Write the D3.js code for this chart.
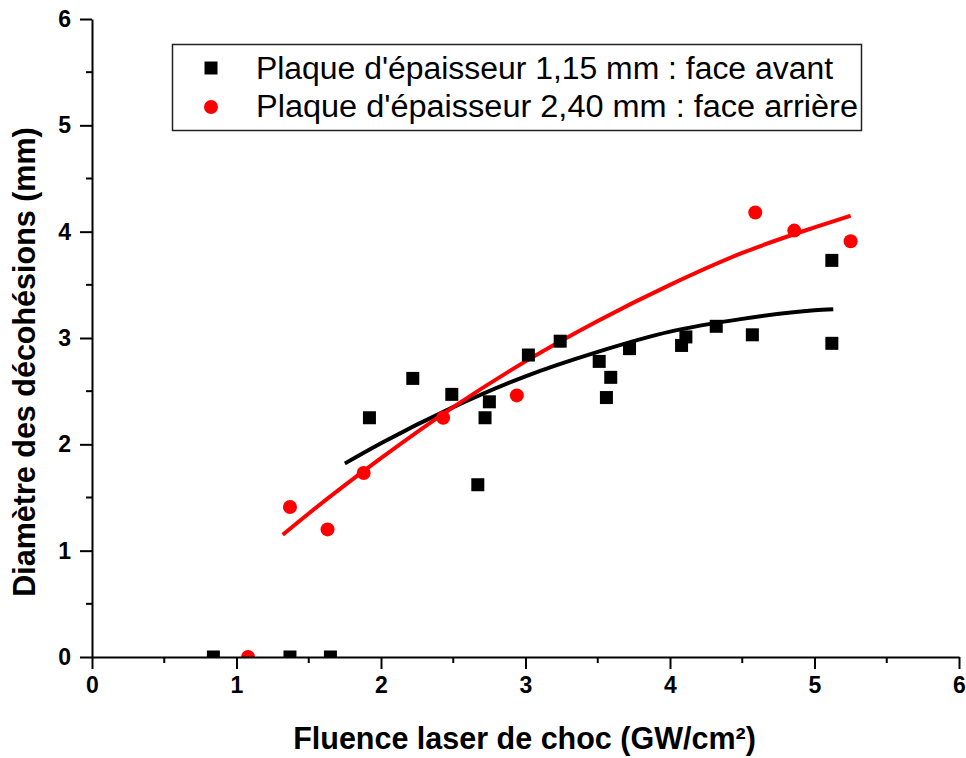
<!DOCTYPE html>
<html>
<head>
<meta charset="utf-8">
<script src="https://cdn.jsdelivr.net/npm/d3@7"></script>
<style>
  body { margin: 0; background: #fff; }
  svg { font-family: "Liberation Sans", Arial, sans-serif; }
</style>
</head>
<body>
<div id="chart"></div>
<script>
// measured points, plate 1.15 mm (front face)
var blackX = [0.84, 1.37, 1.65, 1.92, 2.22, 2.49, 2.67, 2.72, 2.75, 3.02, 3.24, 3.51, 3.56, 3.59, 3.72, 4.08, 4.11, 4.32, 4.57, 5.12, 5.12];
var blackY = [0, 0, 0, 2.25, 2.62, 2.47, 1.62, 2.25, 2.40, 2.84, 2.97, 2.78, 2.44, 2.63, 2.90, 2.93, 3.01, 3.11, 3.03, 3.73, 2.95];
// measured points, plate 2.40 mm (rear face)
var redX = [1.08, 1.37, 1.63, 1.88, 2.43, 2.94, 4.59, 4.86, 5.25];
var redY = [0, 1.41, 1.20, 1.73, 2.25, 2.46, 4.18, 4.01, 3.91];
// fitted curves
var blackFitX = [1.75, 2.0, 2.5, 3.0, 3.5, 4.0, 4.5, 5.0, 5.13];
var blackFitY = [1.82, 2.01, 2.35, 2.64, 2.87, 3.06, 3.18, 3.26, 3.27];
var redFitX = [1.32, 1.5, 2.0, 2.5, 3.0, 3.5, 4.0, 4.5, 5.0, 5.25];
var redFitY = [1.15, 1.35, 1.87, 2.35, 2.78, 3.16, 3.50, 3.80, 4.04, 4.15];

var xTicks = [0, 1, 2, 3, 4, 5, 6];
var yTicks = [0, 1, 2, 3, 4, 5, 6];
var minorTicks = [0.5, 1.5, 2.5, 3.5, 4.5, 5.5];
var seriesNames = ["Plaque d'épaisseur 1,15 mm : face avant", "Plaque d'épaisseur 2,40 mm : face arrière"];
var xTitle = "Fluence laser de choc (GW/cm²)";
var yTitle = "Diamètre des décohésions (mm)";

var W = 966, H = 758;
var svg = d3.select("#chart").append("svg")
  .attr("width", W).attr("height", H);

var x = d3.scaleLinear().domain([0, 6]).range([92, 959]);
var y = d3.scaleLinear().domain([0, 6]).range([657, 19]);

var zip = function (xs, ys) { return xs.map(function (v, i) { return [v, ys[i]]; }); };

svg.append("clipPath").attr("id", "plotclip")
  .append("rect")
  .attr("x", x(0)).attr("y", y(6))
  .attr("width", x(6) - x(0)).attr("height", y(0) - y(6));

var plot = svg.append("g").attr("clip-path", "url(#plotclip)");

var line = d3.line()
  .x(function (d) { return x(d[0]); })
  .y(function (d) { return y(d[1]); })
  .curve(d3.curveMonotoneX);

plot.append("path").datum(zip(blackFitX, blackFitY))
  .attr("d", line).attr("fill", "none").attr("stroke", "#000").attr("stroke-width", 4);
plot.append("path").datum(zip(redFitX, redFitY))
  .attr("d", line).attr("fill", "none").attr("stroke", "#ff0000").attr("stroke-width", 4);

var sq = 13;
plot.selectAll(".sq").data(zip(blackX, blackY)).enter().append("rect")
  .attr("class", "sq")
  .attr("x", function (d) { return x(d[0]) - sq / 2; })
  .attr("y", function (d) { return y(d[1]) - sq / 2; })
  .attr("width", sq).attr("height", sq)
  .attr("fill", "#000");

plot.selectAll(".dot").data(zip(redX, redY)).enter().append("circle")
  .attr("class", "dot")
  .attr("cx", function (d) { return x(d[0]); })
  .attr("cy", function (d) { return y(d[1]); })
  .attr("r", 7)
  .attr("fill", "#ff0000");

// axes
var xAxis = d3.axisBottom(x).tickValues(xTicks).tickFormat(d3.format("d"))
  .tickSize(12).tickSizeOuter(0).tickPadding(8);
var yAxis = d3.axisLeft(y).tickValues(yTicks).tickFormat(d3.format("d"))
  .tickSize(12).tickSizeOuter(0).tickPadding(9);

var gx = svg.append("g").attr("transform", "translate(0," + y(0) + ")").call(xAxis);
var gy = svg.append("g").attr("transform", "translate(" + x(0) + ",0)").call(yAxis);

gx.append("g").selectAll("line").data(minorTicks).enter().append("line")
  .attr("x1", function (d) { return x(d); }).attr("x2", function (d) { return x(d); })
  .attr("y1", 0).attr("y2", 6);
gy.append("g").selectAll("line").data(minorTicks).enter().append("line")
  .attr("y1", function (d) { return y(d); }).attr("y2", function (d) { return y(d); })
  .attr("x1", 0).attr("x2", -6);

[gx, gy].forEach(function (g) {
  g.select(".domain").attr("stroke", "#000").attr("stroke-width", 2);
  g.selectAll("line").attr("stroke", "#000").attr("stroke-width", 2);
  g.selectAll("text")
    .attr("font-family", "'Liberation Sans', Arial, sans-serif")
    .attr("font-size", 23).attr("font-weight", "bold").attr("fill", "#000");
});

// axis titles
svg.append("text")
  .attr("x", (x(0) + x(6)) / 2 - 1).attr("y", 749)
  .attr("text-anchor", "middle")
  .attr("font-size", 30.5).attr("font-weight", "bold")
  .text(xTitle);

svg.append("text")
  .attr("transform", "translate(35," + 362 + ") rotate(-90)")
  .attr("text-anchor", "middle")
  .attr("font-size", 30.5).attr("font-weight", "bold")
  .text(yTitle);

// legend
var legend = svg.append("g");
legend.append("rect")
  .attr("x", 172.5).attr("y", 44.5).attr("width", 689).attr("height", 86)
  .attr("fill", "#fff").attr("stroke", "#222").attr("stroke-width", 1.5);

legend.append("rect")
  .attr("x", 211 - sq / 2).attr("y", 68 - sq / 2).attr("width", sq).attr("height", sq)
  .attr("fill", "#000");
legend.append("circle")
  .attr("cx", 211).attr("cy", 107).attr("r", 7).attr("fill", "#ff0000");

var legendWidths = [577, 602];
legend.selectAll(".lt").data(seriesNames).enter().append("text")
  .attr("class", "lt")
  .attr("x", 256)
  .attr("y", function (d, i) { return i == 0 ? 79 : 117; })
  .attr("font-size", 31)
  .attr("textLength", function (d, i) { return legendWidths[i]; })
  .attr("lengthAdjust", "spacingAndGlyphs")
  .attr("fill", "#000")
  .text(function (d) { return d; });
</script>
</body>
</html>
